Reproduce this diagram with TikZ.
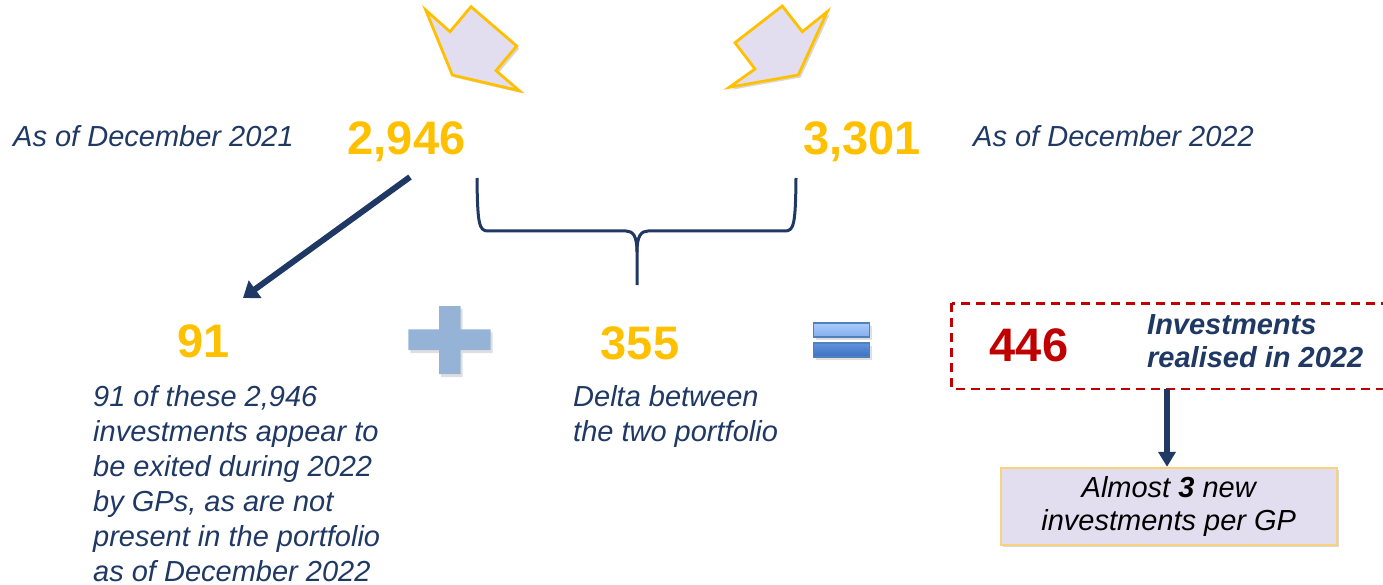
\documentclass[tikz,border=0pt]{standalone}
\usepackage{fontspec}
\setmainfont{Liberation Sans}
\usetikzlibrary{arrows.meta,shadows,calc}
\definecolor{navy}{HTML}{1F3864}
\definecolor{gold}{HTML}{FFC000}
\definecolor{darkred}{HTML}{C00000}
\definecolor{lav}{HTML}{E3DEEF}
\definecolor{paleblue}{HTML}{95B3D7}
\definecolor{eqborder}{HTML}{4F81BD}
\definecolor{eqtopA}{HTML}{A9CBFF}
\definecolor{eqtopB}{HTML}{85AEEB}
\definecolor{eqbotA}{HTML}{5E93DC}
\definecolor{eqbotB}{HTML}{3F71BF}
\definecolor{lightgold}{HTML}{FAD27E}
\tikzset{
  lbl/.style={font=\fontsize{29}{35}\selectfont\itshape, text=navy, inner sep=0pt},
  num/.style={font=\fontsize{47}{50}\selectfont\bfseries, text=gold, inner sep=0pt},
  bigarrow/.style={draw=gold, line width=2.8pt, fill=lav, line join=miter,
    drop shadow={opacity=0.3, shadow xshift=2.5pt, shadow yshift=-2.5pt}},
  navyarrow/.style={draw=navy, line width=6pt, -{Triangle[width=21pt,length=15pt]}},
  bracepath/.style={draw=navy, line width=3pt},
  shade/.style={drop shadow={opacity=0.25, shadow xshift=2pt, shadow yshift=-3pt}},
  eqbar/.style={draw=eqborder, line width=1.5pt, inner sep=0pt, minimum width=56pt, minimum height=14pt},
  infobox/.style={draw=lightgold, line width=2pt, fill=lav, minimum width=336pt, minimum height=77pt,
    align=center, font=\fontsize{29}{33}\selectfont\itshape, text=black,
    drop shadow={opacity=0.3, shadow xshift=2.5pt, shadow yshift=-2.5pt}},
}
\begin{document}
\begin{tikzpicture}[x=1pt,y=-1pt]
\useasboundingbox (0,0) rectangle (1383,585);
\clip (0,0) rectangle (1383,585);

% top arrow shapes
\draw[bigarrow] (425.7,10) -- (450,31.7) -- (471,6.7) -- (516.7,46) -- (496,70.7) -- (519.3,90.7) -- (452.3,75) -- cycle;
\draw[bigarrow] (827.3,11.7) -- (802.3,31.7) -- (782.3,6) -- (735,42.7) -- (755,69) -- (729.3,87.3) -- (798.3,75) -- cycle;

% top row
\node[lbl, anchor=base west] (d21) at (13,147) {As of December 2021};
\node[num, anchor=base] (n2946) at (406.5,155) {2,946};
\node[num, anchor=base] (n3301) at (862,155) {3,301};
\node[lbl, anchor=base west] (d22) at (973,147) {As of December 2022};

% brace
\coordinate (bl) at (477,178);
\coordinate (br) at (796,178);
\coordinate (bc) at (637,285);
\draw[bracepath] (bl) .. controls (477.5,224) and (479,231) .. (488,231) -- (626,231)
   .. controls (633,231) and (637,236) .. (637,252) -- (bc);
\draw[bracepath] (br) .. controls (795.5,224) and (794,231) .. (785,231) -- (648,231)
   .. controls (641,231) and (637,236) .. (637,252);

% arrow from 2,946 to 91
\coordinate (a1s) at (410,177);
\coordinate (a1e) at (243,298);
\draw[navyarrow] (a1s) -- (a1e);

% middle row
\node[num, anchor=base] (n91) at (204,357) {91};
\node[num, anchor=base] (n355) at (640,359) {355};

% plus sign
\fill[paleblue, shade] (408.3,329.3) -- (439,329.3) -- (439,306) -- (460.7,306) -- (460.7,329.3)
  -- (490.7,329.3) -- (490.7,350) -- (460.7,350) -- (460.7,374) -- (439,374) -- (439,350)
  -- (408.3,350) -- cycle;

% equals sign
\node[eqbar, top color=eqtopA, bottom color=eqtopB, shade] (eqtop) at (841.7,330) {};
\node[eqbar, top color=eqbotA, bottom color=eqbotB, shade] (eqbot) at (841.7,350) {};

% explanations
\node[lbl, anchor=north west, align=left] (expl) at (93,385)
  {91 of these 2,946\\investments appear to\\be exited during 2022\\by GPs, as are not\\present in the portfolio\\as of December 2022};
\node[lbl, anchor=north west, align=left] (delta) at (573,385) {Delta between\\the two portfolio};

% result box
\draw[darkred, line width=2.5pt, dash pattern=on 9pt off 6pt] (951.7,303.3) rectangle (1400,389);
\coordinate (rbsouth) at (1167,389);
\node[font=\fontsize{47}{50}\selectfont\bfseries, text=darkred, inner sep=0pt, anchor=base] (n446) at (1029,361) {446};
\node[font=\fontsize{29}{33}\selectfont\bfseries\itshape, text=navy, inner sep=0pt, anchor=north west, align=left] (real) at (1147,314)
  {Investments\\realised in 2022};

% bottom box
\node[infobox] (almost) at (1168.7,506.3) {Almost \textbf{3} new\\investments per GP};
\draw[navyarrow, -{Triangle[width=17pt,length=15pt]}] (rbsouth) -- (almost.north -| rbsouth);
\end{tikzpicture}
\end{document}
